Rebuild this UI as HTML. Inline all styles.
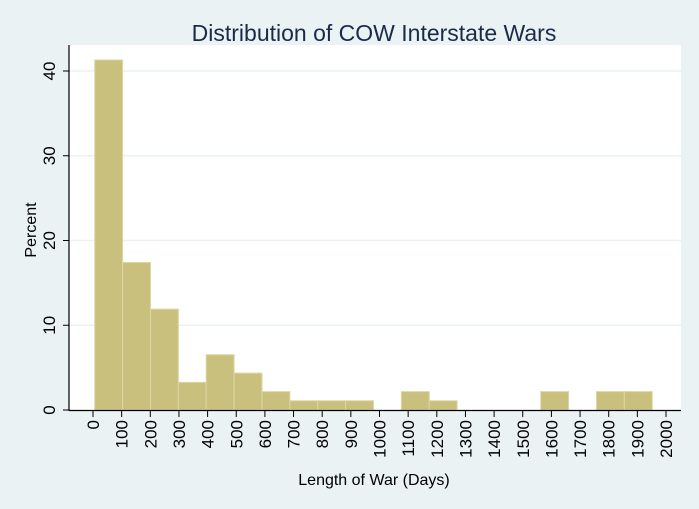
<!DOCTYPE html>
<html><head><meta charset="utf-8"><style>
body{margin:0;background:#eaf2f3;}
svg{display:block;font-family:"Liberation Sans",sans-serif;}
</style></head><body>
<svg id="c" width="699" height="509">
<rect width="699" height="509" fill="#eaf2f3"/>
<rect x="69" y="45" width="612" height="366" fill="#fff"/>
<text x="374" y="41" text-anchor="middle" font-size="23" fill="#1a2b4a">Distribution of COW Interstate Wars</text>
<text transform="translate(36,230) rotate(-90)" text-anchor="middle" font-size="16" fill="#000">Percent</text>
<text x="374" y="485" text-anchor="middle" font-size="16" fill="#000">Length of War (Days)</text>
<g id="g"></g>
</svg>
<script>
const binStart = 6;
const binWidth = 97.3;
const percents = [41.3,17.4,11.9,3.26,6.52,4.35,2.17,1.09,1.09,1.09,0,2.17,1.09,0,0,0,2.17,0,2.17,2.17];
const yTicks = [0,10,20,30,40];
const xTicks = [0,100,200,300,400,500,600,700,800,900,1000,1100,1200,1300,1400,1500,1600,1700,1800,1900,2000];
const ns="http://www.w3.org/2000/svg";
const g=document.getElementById('g');
const X=v=>93+v*0.2865;
const Y=v=>410-v*8.475;
function mk(t,a){const e=document.createElementNS(ns,t);for(const k in a)e.setAttribute(k,a[k]);g.appendChild(e);return e;}
yTicks.forEach(v=>{
  if(v>0){const l=mk('line',{x1:69,x2:681,y1:Y(v),y2:Y(v),stroke:'#eaf2f3','stroke-width':1.5});
  
  }
});
percents.forEach((p,i)=>{
  if(p<=0)return;
  const x0=X(binStart+i*binWidth),x1=X(binStart+(i+1)*binWidth);
  const r=mk('rect',{x:x0,y:Y(p),width:x1-x0,height:Y(0)-Y(p),fill:'#c9c07e',stroke:'#dcd6a2','stroke-width':1});
  
  
});
let a=mk('line',{x1:69,x2:69,y1:45,y2:411,stroke:'#000','stroke-width':1.2});


a=mk('line',{x1:69,x2:681,y1:410.5,y2:410.5,stroke:'#000','stroke-width':1.2});


yTicks.forEach(v=>{
  const t=mk('line',{x1:63,x2:69,y1:Y(v),y2:Y(v),stroke:'#000'});
  
  
  const l=mk('text',{transform:`translate(55,${Y(v)}) rotate(-90)`,'text-anchor':'middle','font-size':17});
  l.textContent=v;
  
  
});
xTicks.forEach(v=>{
  const t=mk('line',{x1:X(v),x2:X(v),y1:411,y2:417,stroke:'#000'});
  
  
  const l=mk('text',{transform:`translate(${X(v)+6},420) rotate(-90)`,'text-anchor':'end','font-size':17});
  l.textContent=v;
  
  
});
</script>
</body></html>
